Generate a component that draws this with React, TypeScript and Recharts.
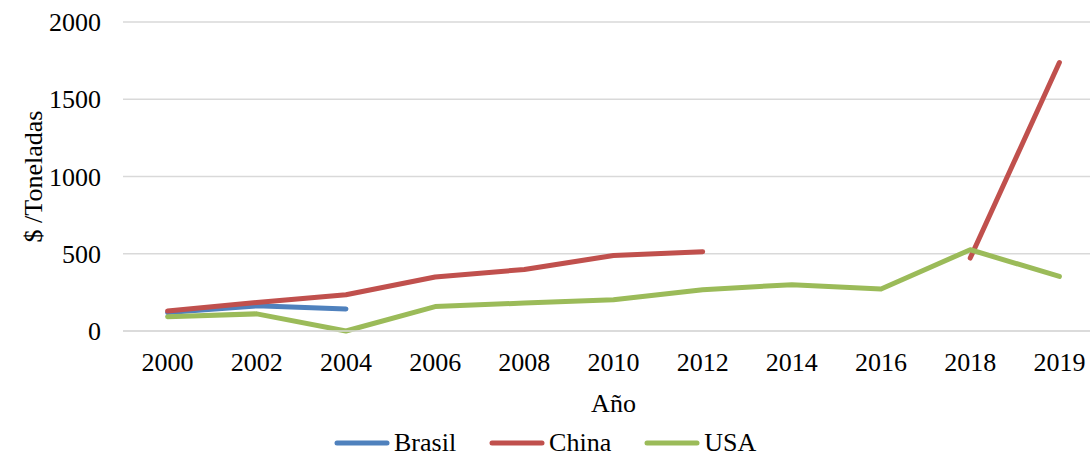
import { LineChart, Line, XAxis, YAxis, CartesianGrid, Legend } from "recharts";

const YEARS = ["2000", "2002", "2004", "2006", "2008", "2010", "2012", "2014", "2016", "2018", "2019"];
const BRASIL = [119, 163, 143, null, null, null, null, null, null, null, null];
const CHINA = [130, 185, 235, 350, 398, 489, 513, null, null, 472, 1738];
const USA = [93, 111, 0, 158, 181, 202, 267, 300, 272, 526, 353];
const Y_TICKS = [0, 500, 1000, 1500, 2000];

const SERIES = [
  { key: "Brasil", color: "#4F81BD" },
  { key: "China", color: "#C0504D" },
  { key: "USA", color: "#9BBB59" },
];

const data = YEARS.map((year, i) => ({
  year,
  Brasil: BRASIL[i],
  China: CHINA[i],
  USA: USA[i],
}));

const FONT = "Liberation Serif, Times New Roman, DejaVu Serif, serif";
const GRID = "#d9d9d9";
const TEXT = { fill: "#000", fontSize: 26, fontFamily: FONT };

function LegendRow() {
  return (
    <div
      style={{
        display: "flex",
        alignItems: "center",
        height: 30,
        paddingTop: 4,
        boxSizing: "border-box",
        fontFamily: FONT,
        fontSize: 26,
        color: "#000",
      }}
    >
      {SERIES.map((s, i) => (
        <div key={s.key} style={{ display: "flex", alignItems: "center", marginLeft: i === 0 ? 0 : 32 }}>
          <svg width={58} height={8} style={{ marginRight: 3 }}>
            <line x1={4} y1={4} x2={54} y2={4} stroke={s.color} strokeWidth={5} strokeLinecap="round" />
          </svg>
          <span style={{ lineHeight: "26px" }}>{s.key}</span>
        </div>
      ))}
    </div>
  );
}

export default function App() {
  return (
    <div style={{ position: "absolute", left: 0, top: 0, width: 1090, height: 456, overflow: "hidden", background: "#fff", fontFamily: FONT }}>
      <LineChart width={1110} height={456} data={data} margin={{ top: 22, right: 6, bottom: 0, left: 0 }} style={{ fontFamily: FONT }}>
        <CartesianGrid vertical={false} stroke={GRID} strokeWidth={1.5} />
        <XAxis
          dataKey="year"
          padding={{ left: 44.6, right: 44.6 }}
          height={95}
          axisLine={{ stroke: GRID, strokeWidth: 1.5 }}
          tickLine={false}
          tickSize={0}
          tickMargin={22}
          tick={TEXT}
          label={{ value: "Año", position: "insideBottom", offset: 14, ...TEXT }}
        />
        <YAxis
          width={123}
          domain={[0, 2000]}
          ticks={Y_TICKS}
          axisLine={false}
          tickLine={false}
          tickSize={0}
          tickMargin={22}
          tick={TEXT}
          label={{
            value: "$ /Toneladas",
            angle: -90,
            position: "insideLeft",
            offset: 33,
            ...TEXT,
            style: { textAnchor: "middle" },
          }}
        />
        <Legend verticalAlign="bottom" content={() => <LegendRow />} wrapperStyle={{ left: 333, width: "auto" }} />
        {SERIES.map((s) => (
          <Line
            key={s.key}
            type="linear"
            dataKey={s.key}
            stroke={s.color}
            strokeWidth={5}
            strokeLinecap="round"
            strokeLinejoin="round"
            dot={false}
            activeDot={false}
            isAnimationActive={false}
          />
        ))}
      </LineChart>
    </div>
  );
}
